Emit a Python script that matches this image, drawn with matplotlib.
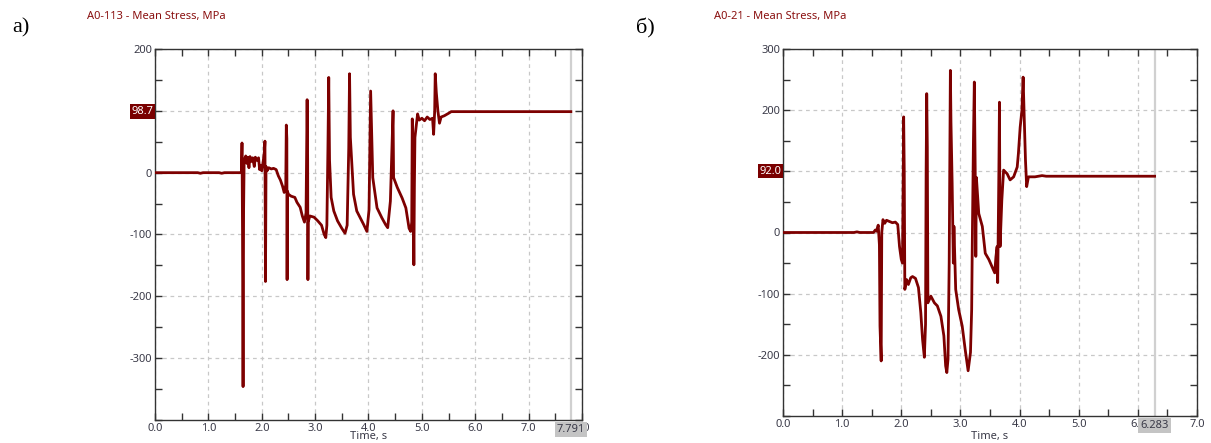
import matplotlib
matplotlib.use("Agg")
import matplotlib.pyplot as plt
from matplotlib.ticker import MultipleLocator, FixedLocator, FixedFormatter

# ---------------- data ----------------
t_a = [0.0, 0.8, 0.85, 0.9, 1.2, 1.25, 1.3, 1.6, 1.62, 1.63, 1.64, 1.65, 1.66, 1.67,
       1.70, 1.72, 1.74, 1.76, 1.78, 1.80, 1.83, 1.86, 1.88, 1.91, 1.94, 1.96, 1.98,
       2.0, 2.03, 2.05, 2.06, 2.07, 2.08, 2.10, 2.13, 2.18, 2.22, 2.27, 2.31, 2.35,
       2.39, 2.42, 2.45, 2.46, 2.47, 2.475, 2.48, 2.50, 2.55, 2.62, 2.66, 2.72, 2.76,
       2.80, 2.83, 2.85, 2.86, 2.865, 2.87, 2.90, 2.98, 3.05, 3.12, 3.17, 3.20, 3.22,
       3.24, 3.255, 3.27, 3.30, 3.35, 3.42, 3.50, 3.56, 3.60, 3.63, 3.645, 3.66, 3.72,
       3.78, 3.91, 3.97, 4.01, 4.04, 4.08, 4.16, 4.25, 4.32, 4.36, 4.41, 4.46, 4.47,
       4.54, 4.63, 4.70, 4.76, 4.79, 4.81, 4.82, 4.84, 4.85, 4.86, 4.87, 4.90, 4.92,
       4.95, 5.00, 5.05, 5.10, 5.15, 5.20, 5.22, 5.24, 5.25, 5.27, 5.30, 5.33, 5.36,
       5.42, 5.50, 5.55, 7.791]
v_a = [0, 0, -1, 0, 0, -1, 0, 0, 2, 48, -100, -346, -60, 20,
       27, 15, 25, 8, 26, 18, 24, 10, 25, 20, 24, 5, 12,
       3, 20, 35, 51, -176, 10, 3, 8, 6, 7, 5, -5, -12,
       -22, -32, -20, 77, 55, -173, -30, -35, -38, -40, -48, -56, -70,
       -80, -65, 118, 20, -173, -80, -70, -72, -78, -85, -100, -105, -85,
       40, 154, 20, -40, -62, -78, -90, -98, -85, 40, 160, 57, -35,
       -62, -84, -95, -60, 132, -8, -57, -73, -84, -89, -46, 100, -8,
       -24, -41, -57, -90, -95, -80, 87, -60, -149, -20, 57, 80, 95,
       85, 88, 84, 90, 86, 88, 62, 100, 160, 130, 100, 80, 90,
       92, 96, 98.7, 98.7]

t_b = [0.0, 1.2, 1.25, 1.3, 1.53, 1.56, 1.58, 1.61, 1.63, 1.64, 1.66, 1.67, 1.69,
       1.72, 1.75, 1.80, 1.85, 1.90, 1.94, 1.97, 2.0, 2.02, 2.03, 2.04, 2.05, 2.06,
       2.09, 2.12, 2.16, 2.19, 2.24, 2.29, 2.33, 2.36, 2.39, 2.41, 2.42, 2.43, 2.44,
       2.45, 2.50, 2.56, 2.61, 2.67, 2.72, 2.75, 2.77, 2.79, 2.81, 2.83, 2.84, 2.86,
       2.88, 2.89, 2.92, 2.97, 3.03, 3.08, 3.13, 3.17, 3.19, 3.20, 3.22, 3.235, 3.25,
       3.26, 3.27, 3.31, 3.37, 3.42, 3.48, 3.53, 3.58, 3.60, 3.62, 3.63, 3.65, 3.66,
       3.67, 3.70, 3.73, 3.79, 3.84, 3.90, 3.96, 3.98, 4.01, 4.04, 4.06, 4.08, 4.10,
       4.12, 4.15, 4.26, 4.38, 4.45, 6.283]
v_b = [0, 0, 1, 0, 0, 4, 2, 12, -20, -153, -210, 0, 21,
       15, 20, 18, 16, 17, 13, -23, -44, -50, 60, 189, 100, -93,
       -77, -85, -74, -72, -75, -90, -131, -175, -204, -150, 100, 227, 140,
       -115, -104, -115, -120, -137, -169, -218, -229, -207, -50, 265, 180, 80,
       -50, 10, -93, -126, -153, -191, -226, -196, -126, -23, 150, 246, 100,
       -39, 90, 31, 10, -34, -44, -55, -66, -40, -23, -82, 100, 213,
       -23, 53, 102, 96, 86, 91, 107, 129, 172, 200, 254, 183, 118,
       75, 91, 91, 93, 92, 92]

titles = ["A0-113 - Mean Stress, MPa", "A0-21 - Mean Stress, MPa"]
panel_tags = ["а)", "б)"]
cursor_a, cursor_b = 7.791, 6.283
value_a, value_b = "98.7", "92.0"
ylab_a = {200: "200", 100: "", 0: "0", -100: "-100", -200: "-200", -300: "-300"}
ylab_b = {300: "300", 200: "200", 100: "", 0: "0", -100: "-100", -200: "-200"}

# ---------------- style ----------------
W, H = 1211, 443
LINE = "#7d0000"
TXT = "#3a3a48"
fig = plt.figure(figsize=(W / 100, H / 100), dpi=100)
plt.rcParams["font.family"] = ["Noto Sans", "DejaVu Sans"]


def panel(rect, t, v, xlim, ylim, ylabels, title, tag, tagx, titlex,
          cursor, value, value_y):
    ax = fig.add_axes(rect)
    ax.plot(t, v, color=LINE, lw=2.0, zorder=3)
    ax.set_xlim(*xlim)
    ax.set_ylim(*ylim)
    ax.xaxis.set_major_locator(MultipleLocator(1.0))
    ax.xaxis.set_minor_locator(MultipleLocator(0.5))
    ax.yaxis.set_major_locator(FixedLocator(list(ylabels.keys())))
    ax.yaxis.set_major_formatter(FixedFormatter(list(ylabels.values())))
    ax.yaxis.set_minor_locator(MultipleLocator(50))
    ax.xaxis.set_major_formatter(plt.FuncFormatter(lambda x, p: f"{x:.1f}"))
    ax.tick_params(which="both", direction="in", top=True, right=True,
                   colors="#333333", labelcolor=TXT, labelsize=8, pad=2)
    ax.tick_params(which="major", length=5, width=1)
    ax.tick_params(which="minor", length=5, width=1)
    ax.grid(True, which="major", ls=(0, (3, 3)), color="#c8c8c8", lw=0.9)
    for s in ax.spines.values():
        s.set_color("#333333")
        s.set_linewidth(1.0)
    ax.axvline(cursor, color="#d0d0d0", lw=1.6, zorder=2)
    ax.text(cursor, ylim[0] - (ylim[1] - ylim[0]) * 0.012, f"{cursor:.3f}",
            ha="center", va="top", fontsize=8, color=TXT, zorder=10,
            bbox=dict(boxstyle="square,pad=0.18", fc="#c4c4c4", ec="none"),
            clip_on=False)
    ax.text(-0.004, value_y, value, transform=ax.get_yaxis_transform(),
            ha="right", va="center", fontsize=8, color="white", zorder=10,
            bbox=dict(boxstyle="square,pad=0.15", fc="#7a0000", ec="none"),
            clip_on=False)
    x0 = rect[0] + rect[2] / 2
    fig.text(x0, 1 - 437 / H, "Time, s", ha="center", va="center",
             fontsize=8, color=TXT)
    fig.text(titlex / W, 1 - 17 / H, title, ha="left", va="center",
             fontsize=8, color="#8a1010")
    fig.text(tagx / W, 1 - 28 / H, tag, ha="left", va="center",
             fontsize=16, family="Liberation Serif", color="black")
    return ax


panel([155 / W, 1 - 420 / H, 427 / W, 371 / H], t_a, v_a, (0, 8), (-400, 200),
      ylab_a, titles[0], panel_tags[0], 12, 87, cursor_a, value_a, 98.7)
panel([783 / W, 1 - 416 / H, 414 / W, 367 / H], t_b, v_b, (0, 7), (-300, 300),
      ylab_b, titles[1], panel_tags[1], 636, 714, cursor_b, value_b, 100)

fig.savefig("out.png", dpi=100)
